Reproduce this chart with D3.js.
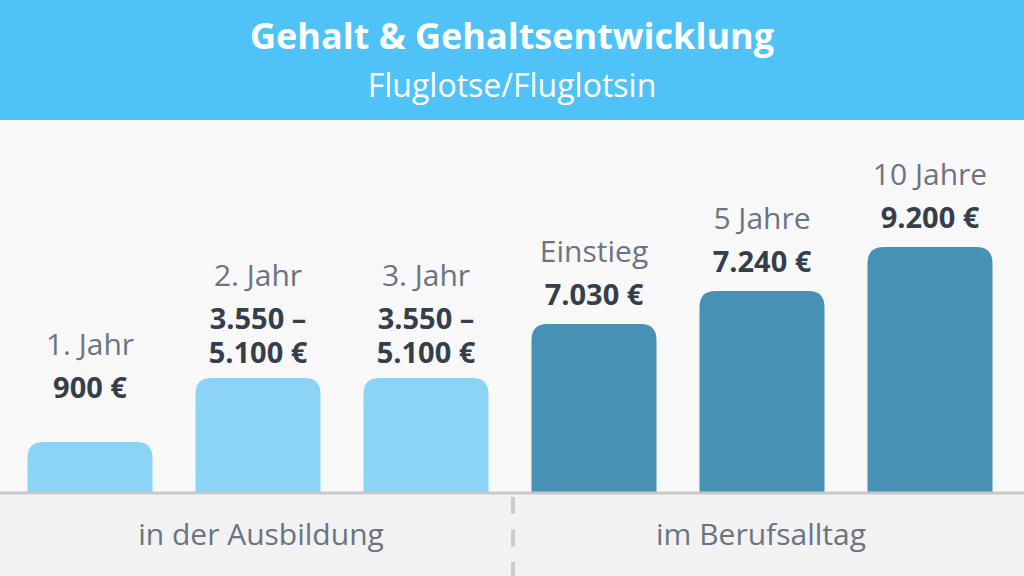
<!DOCTYPE html>
<html>
<head>
<meta charset="utf-8">
<script src="https://cdn.jsdelivr.net/npm/d3@7"></script>
<style>
  html, body { margin: 0; padding: 0; background: #f8f8f8; }
  svg { display: block; font-family: "Open Sans", "Noto Sans", sans-serif; }
</style>
</head>
<body>
<svg width="1024" height="576"></svg>
<script>
// chart data
const categories = ["1. Jahr", "2. Jahr", "3. Jahr", "Einstieg", "5 Jahre", "10 Jahre"];
const valueLabels = [["900 €"], ["3.550 –", "5.100 €"], ["3.550 –", "5.100 €"], ["7.030 €"], ["7.240 €"], ["9.200 €"]];
// bar heights in the chart's own (stylised) units
const barLevels = [50, 114, 114, 168, 201, 245];
const phases = ["ausbildung", "ausbildung", "ausbildung", "beruf", "beruf", "beruf"];
const groupLabels = ["in der Ausbildung", "im Berufsalltag"];
const title = "Gehalt & Gehaltsentwicklung";
const subtitle = "Fluglotse/Fluglotsin";

document.addEventListener("DOMContentLoaded", function () {
    const svg = d3.select("svg");
    const width = 1024, height = 576;
    const headerH = 120;
    const baseY = 492;

    const color = d3.scaleOrdinal()
        .domain(["ausbildung", "beruf"])
        .range(["#8bd4f6", "#4691b4"]);

    // backgrounds
    svg.append("rect").attr("width", width).attr("height", height).attr("fill", "#f8f8f8");
    svg.append("rect").attr("y", baseY).attr("width", width).attr("height", height - baseY).attr("fill", "#f2f2f2");
    svg.append("rect").attr("width", width).attr("height", headerH).attr("fill", "#4fc3f7");

    svg.append("text")
        .attr("x", width / 2).attr("y", 49)
        .attr("text-anchor", "middle")
        .attr("fill", "#fff")
        .style("font-size", "36px").style("font-weight", 700)
        .text(title);
    svg.append("text")
        .attr("x", width / 2).attr("y", 97)
        .attr("text-anchor", "middle")
        .attr("fill", "#fff")
        .style("font-size", "32px")
        .text(subtitle);

    const x = d3.scaleBand()
        .domain(categories)
        .range([6, 1014])
        .paddingInner(0.256)
        .paddingOuter(0.128);

    const y = d3.scaleLinear()
        .domain([0, 250])
        .range([baseY, baseY - 250]);

    const r = 16;
    function barPath(x0, w, top, bottom) {
        return `M${x0},${bottom}V${top + r}Q${x0},${top} ${x0 + r},${top}` +
            `H${x0 + w - r}Q${x0 + w},${top} ${x0 + w},${top + r}V${bottom}Z`;
    }

    svg.append("g").selectAll("path")
        .data(categories)
        .enter().append("path")
        .attr("d", (d, i) => barPath(x(d), x.bandwidth(), y(barLevels[i]), baseY))
        .attr("fill", (d, i) => color(phases[i]));

    // labels sit above the bar, but never lower than the floor level
    const labelFloor = 75;
    const lineH = 34;
    const labels = svg.append("g").selectAll("g")
        .data(categories)
        .enter().append("g")
        .attr("transform", (d, i) => {
            const gap = 19 - 4 * (valueLabels[i].length - 1);
            return `translate(${x(d) + x.bandwidth() / 2},${y(Math.max(barLevels[i], labelFloor)) - gap})`;
        });

    labels.each(function (d, i) {
        const g = d3.select(this);
        const lines = valueLabels[i];
        // one text element per value, extra lines as tspans
        const val = g.append("text")
            .attr("y", -(lines.length - 1) * lineH)
            .attr("text-anchor", "middle")
            .attr("fill", "#353f4c")
            .style("font-size", "29px").style("font-weight", 700);
        lines.forEach((t, j) => {
            val.append("tspan")
                .attr("x", 0)
                .attr("dy", j === 0 ? 0 : lineH)
                .text(t);
        });
        g.append("text")
            .attr("y", -(lines.length - 1) * lineH - 43)
            .attr("text-anchor", "middle")
            .attr("fill", "#6b7480")
            .style("font-size", "30px")
            .text(d);
    });

    // baseline and group divider
    svg.append("line")
        .attr("x1", 0).attr("x2", width)
        .attr("y1", baseY + 1).attr("y2", baseY + 1)
        .attr("stroke", "#c9c9c9").attr("stroke-width", 3);

    const mid = width / 2 + 1;
    svg.append("line")
        .attr("x1", mid).attr("x2", mid)
        .attr("y1", baseY + 5).attr("y2", height)
        .attr("stroke", "#cccccc").attr("stroke-width", 4)
        .attr("stroke-dasharray", "17,15.5");

    // group labels centred under their three bars
    const groupCenter = i => {
        const first = x(categories[i * 3]);
        const last = x(categories[i * 3 + 2]) + x.bandwidth();
        return (first + last) / 2;
    };
    svg.append("g").selectAll("text")
        .data(groupLabels)
        .enter().append("text")
        .attr("x", (d, i) => groupCenter(i) + (i === 0 ? 3 : -1))
        .attr("y", 545)
        .attr("text-anchor", "middle")
        .attr("fill", "#6b7480")
        .style("font-size", "30px")
        .text(d => d);
});
</script>
</body>
</html>
